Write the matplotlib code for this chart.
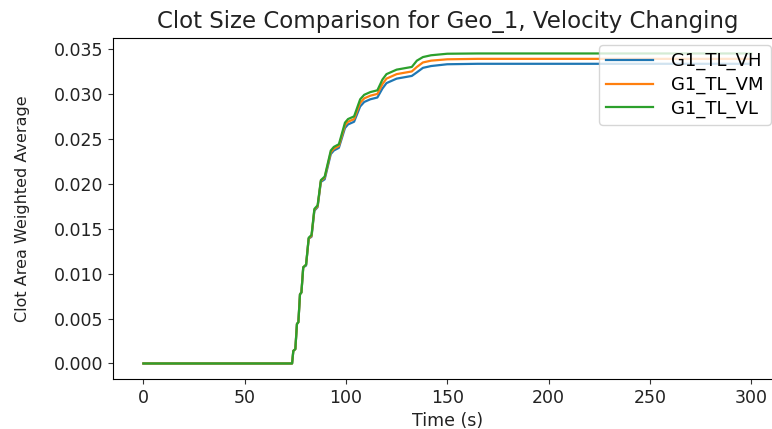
import matplotlib
matplotlib.use("Agg")
import matplotlib.pyplot as plt

# Time samples (s) shared by the three velocity cases
time_s = [0, 73.4, 74.0, 75.0, 75.8, 76.5, 77.3, 78.0, 78.9, 80.3, 81.6, 83.0,
          84.4, 86.0, 87.6, 89.5, 92.5, 94.0, 96.5, 99.5, 101.0, 104.0, 107.0,
          109.0, 112.0, 115.5, 118.0, 120.0, 125.0, 132.5, 135.0, 138.0, 142.0,
          150.0, 165.0, 300]

# Clot area weighted average for high / medium / low velocity
g1_tl_vh = [0, 0, 0.0014, 0.0016, 0.0044, 0.0046, 0.0077, 0.0079, 0.0107, 0.0109,
            0.0139, 0.0141, 0.0170, 0.0174, 0.0202, 0.0205, 0.0233, 0.0237, 0.0240,
            0.0262, 0.0266, 0.0269, 0.0286, 0.0291, 0.0294, 0.0296, 0.0306, 0.0312,
            0.0317, 0.0320, 0.0324, 0.0329, 0.0331, 0.0333, 0.03335, 0.03335]
g1_tl_vm = [0, 0, 0.0014, 0.0016, 0.0044, 0.0046, 0.0077, 0.0079, 0.0107, 0.0110,
            0.0139, 0.0142, 0.0171, 0.0175, 0.0203, 0.0207, 0.0235, 0.0239, 0.0242,
            0.0265, 0.0269, 0.0272, 0.0290, 0.0295, 0.0298, 0.0300, 0.0311, 0.0317,
            0.0322, 0.0325, 0.0330, 0.0335, 0.0337, 0.03385, 0.0339, 0.0339]
g1_tl_vl = [0, 0, 0.0014, 0.0016, 0.0044, 0.0046, 0.0077, 0.0079, 0.0107, 0.0110,
            0.0140, 0.0143, 0.0172, 0.0176, 0.0204, 0.0208, 0.0237, 0.0241, 0.0244,
            0.0268, 0.0272, 0.0275, 0.0294, 0.0299, 0.0302, 0.0304, 0.0316, 0.0322,
            0.0327, 0.0330, 0.0337, 0.0341, 0.0343, 0.03447, 0.0345, 0.0345]

series_labels = ["G1_TL_VH", "G1_TL_VM", "G1_TL_VL"]
x_ticks = [0, 50, 100, 150, 200, 250, 300]

fig = plt.figure(figsize=(7.72, 4.29), dpi=100)
ax = fig.add_axes([0.1464, 0.1166, 0.8659, 0.7949])

for values, label in zip([g1_tl_vh, g1_tl_vm, g1_tl_vl], series_labels):
    ax.plot(time_s, values, label=label, linewidth=1.6)

ax.set_xlim(-15, 315)
ax.set_ylim(-0.001725, 0.036225)
ax.set_xticks(x_ticks)
ax.set_yticks([0.0, 0.005, 0.010, 0.015, 0.020, 0.025, 0.030, 0.035])
ax.yaxis.set_major_formatter(matplotlib.ticker.FormatStrFormatter("%.3f"))
ax.tick_params(labelsize=12.5, colors="#333333", labelcolor="#222222")

ax.set_title("Clot Size Comparison for Geo_1, Velocity Changing", fontsize=16.5,
             color="#222222", pad=7)
ax.set_xlabel("Time (s)", fontsize=12.5, color="#222222")
ax.set_ylabel("Clot Area Weighted Average", fontsize=11.5, color="#222222",
              labelpad=17)

ax.legend(loc="upper right", bbox_to_anchor=(771 / 772, 1 - 45 / 429),
          bbox_transform=fig.transFigure, borderaxespad=0, fontsize=13,
          handlelength=2.6, handletextpad=1.0, labelspacing=0.3)

fig.savefig("out.png", dpi=100)
